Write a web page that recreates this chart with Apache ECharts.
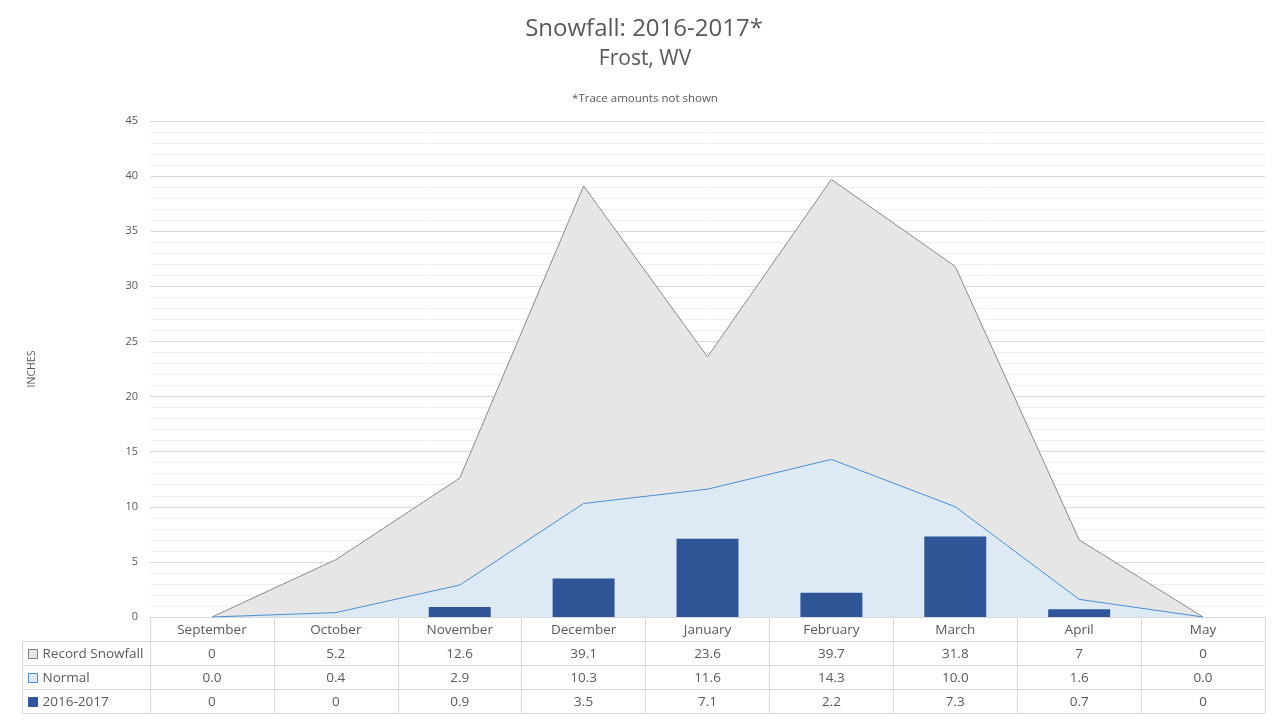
<!DOCTYPE html>
<html>
<head>
<meta charset="utf-8">
<script src="https://cdn.jsdelivr.net/npm/echarts@6/dist/echarts.min.js"></script>
<style>html,body{margin:0;padding:0;background:#fff;}#c{width:1280px;height:720px;}</style>
</head>
<body>
<div id="c"></div>
<script>
var months = ['September','October','November','December','January','February','March','April','May'];
var recordSnowfall = [0, 5.2, 12.6, 39.1, 23.6, 39.7, 31.8, 7, 0];
var normalSnowfall = [0.0, 0.4, 2.9, 10.3, 11.6, 14.3, 10.0, 1.6, 0.0];
var season2016 = [0, 0, 0.9, 3.5, 7.1, 2.2, 7.3, 0.7, 0];
var recordLabels = ['0','5.2','12.6','39.1','23.6','39.7','31.8','7','0'];
var normalLabels = ['0.0','0.4','2.9','10.3','11.6','14.3','10.0','1.6','0.0'];
var seasonLabels = ['0','0','0.9','3.5','7.1','2.2','7.3','0.7','0'];
var yTicks = [0,5,10,15,20,25,30,35,40,45];

var FONT = '"Open Sans", "Noto Sans", sans-serif';
var TXT = '#595959';
var LINE = '#d9d9d9';
var TABLE_FS = 13.5;
var chart = echarts.init(document.getElementById('c'));

function rowAxis(offset, labels) {
  return {
    type: 'category', position: 'bottom', offset: offset, data: months,
    axisLine: {show: true, lineStyle: {color: LINE, width: 1}},
    axisTick: {show: false},
    splitLine: {show: false},
    axisLabel: labels ? {
      show: true, interval: 0, margin: 6, color: TXT, fontFamily: FONT, fontSize: TABLE_FS,
      formatter: function (v, i) { return labels[i]; }
    } : {show: false}
  };
}

function legendRow(name, top, fill, border) {
  return {
    left: 28, top: top, padding: 0, orient: 'vertical', itemWidth: 9, itemHeight: 9, itemGap: 0,
    data: [{name: name, icon: 'rect', itemStyle: {color: fill, borderColor: border, borderWidth: 1}}],
    textStyle: {color: TXT, fontFamily: FONT, fontSize: TABLE_FS, padding: [0, 0, 0, 0]},
    selectedMode: false
  };
}

chart.setOption({
  animation: false,
  title: [
    {text: 'Snowfall: 2016-2017*', left: 639, top: 12, textAlign: 'center',
      textStyle: {color: TXT, fontFamily: FONT, fontSize: 24, fontWeight: 'normal'}},
    {text: 'Frost, WV', left: 640, top: 44, textAlign: 'center',
      textStyle: {color: TXT, fontFamily: FONT, fontSize: 21, fontWeight: 'normal'}},
    {text: '*Trace amounts not shown', left: 640, top: 88, textAlign: 'center',
      textStyle: {color: TXT, fontFamily: FONT, fontSize: 11.5, fontWeight: 'normal'}}
  ],
  legend: [
    legendRow('Record Snowfall', 647, '#e6e6e6', '#808080'),
    legendRow('Normal', 671, '#dde9f5', '#4a8fd0'),
    legendRow('2016-2017', 695, '#2f5597', '#2f5597')
  ],
  grid: {left: 150, right: 15, top: 121, bottom: 103, containLabel: false},
  xAxis: [
    {
      type: 'category', position: 'bottom', data: months, boundaryGap: true,
      axisLine: {show: true, lineStyle: {color: LINE, width: 1}},
      axisTick: {show: true, interval: 0, length: 96, lineStyle: {color: LINE, width: 1}},
      splitLine: {show: false},
      axisLabel: {show: true, interval: 0, margin: 6, color: TXT, fontFamily: FONT, fontSize: TABLE_FS}
    },
    rowAxis(24, recordLabels),
    rowAxis(48, normalLabels),
    rowAxis(72, seasonLabels),
    rowAxis(96, null)
  ],
  yAxis: {
    type: 'value', min: 0, max: 45, interval: 5,
    name: 'INCHES', nameLocation: 'middle', nameGap: 112, nameRotate: 90,
    nameTextStyle: {color: TXT, fontFamily: FONT, fontSize: 10.5},
    axisLine: {show: false}, axisTick: {show: false},
    axisLabel: {color: TXT, fontFamily: FONT, fontSize: 11, margin: 12,
      formatter: function (v) { return yTicks.indexOf(v) >= 0 ? String(v) : ''; }},
    splitLine: {show: true, lineStyle: {color: LINE, width: 1}},
    minorTick: {show: false, splitNumber: 5},
    minorSplitLine: {show: true, lineStyle: {color: '#f0f0f0', width: 1}}
  },
  graphic: [
    {type: 'rect', shape: {x: 22.5, y: 641.5, width: 128, height: 72}, style: {fill: 'none', stroke: LINE, lineWidth: 1}, silent: true},
    {type: 'line', shape: {x1: 22, y1: 665.5, x2: 150, y2: 665.5}, style: {stroke: LINE, lineWidth: 1}, silent: true},
    {type: 'line', shape: {x1: 22, y1: 689.5, x2: 150, y2: 689.5}, style: {stroke: LINE, lineWidth: 1}, silent: true}
  ],
  series: [
    {
      name: 'Record Snowfall', type: 'line', data: recordSnowfall, symbol: 'none',
      lineStyle: {color: '#8a8a8a', width: 1},
      itemStyle: {color: '#e6e6e6', borderColor: '#808080'},
      areaStyle: {color: '#e6e6e6', opacity: 1}, z: 2
    },
    {
      name: 'Normal', type: 'line', data: normalSnowfall, symbol: 'none',
      lineStyle: {color: '#4a8fd0', width: 1},
      itemStyle: {color: '#dde9f5', borderColor: '#4a8fd0'},
      areaStyle: {color: '#dde9f5', opacity: 1}, z: 3
    },
    {
      name: '2016-2017', type: 'bar', data: season2016, barWidth: '50%',
      itemStyle: {color: '#2f5597'}, z: 4
    }
  ]
});
</script>
</body>
</html>
